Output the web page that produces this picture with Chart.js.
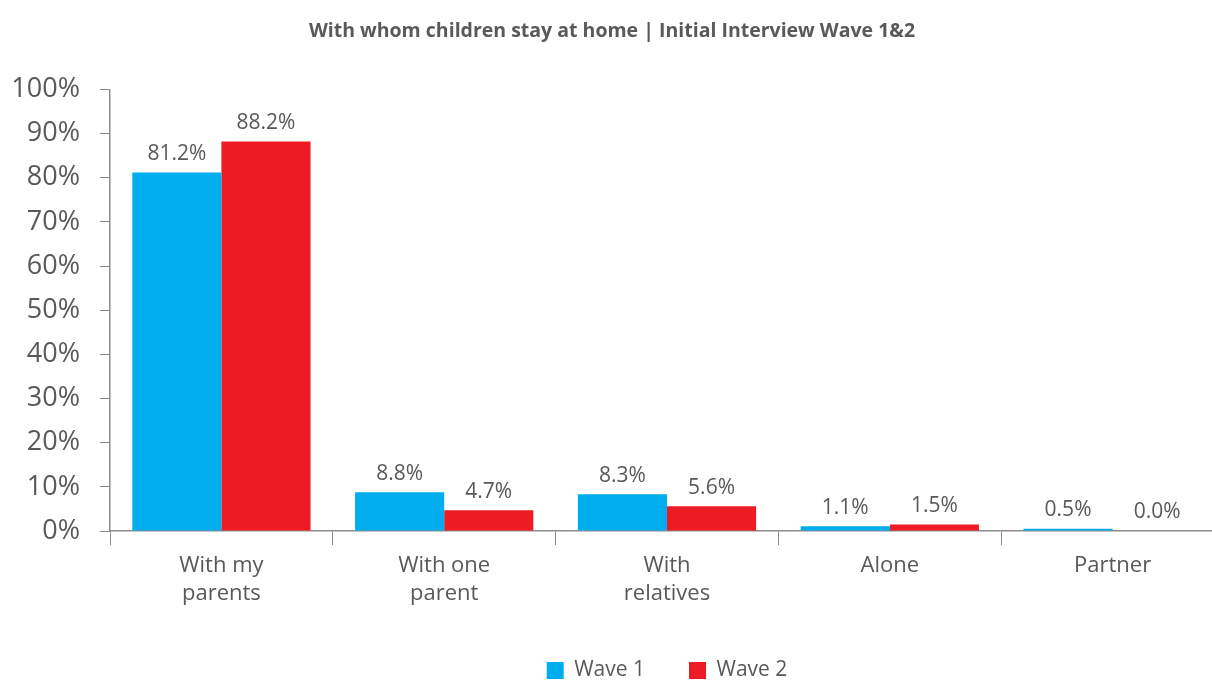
<!DOCTYPE html>
<html>
<head>
<meta charset="utf-8">
<title>With whom children stay at home</title>
<script src="https://cdn.jsdelivr.net/npm/chart.js@4"></script>
<style>
    html, body { margin: 0; padding: 0; background: #ffffff; overflow: hidden; }
    .wrap { width: 1212px; height: 681px; overflow: hidden; }
    .box { position: relative; width: 1224px; height: 693px; }
</style>
</head>
<body>
<div class="wrap">
    <div class="box"><canvas id="stayChart"></canvas></div>
</div>
<script>
const categories = [['With my', 'parents'], ['With one', 'parent'], ['With', 'relatives'], 'Alone', 'Partner'];
const wave1 = [81.2, 8.8, 8.3, 1.1, 0.5];
const wave2 = [88.2, 4.7, 5.6, 1.5, 0.0];
const yTicks = [0, 10, 20, 30, 40, 50, 60, 70, 80, 90, 100];

const textGray = '#595959';
const axisGray = '#8c8c8c';
const fontFamily = "'Open Sans', 'Noto Sans', sans-serif";

// value labels above each bar
const barValues = {
    id: 'barValues',
    afterDatasetsDraw(chart) {
        const ctx = chart.ctx;
        ctx.save();
        ctx.font = '21px ' + fontFamily;
        ctx.fillStyle = textGray;
        ctx.textAlign = 'center';
        ctx.textBaseline = 'bottom';
        chart.data.datasets.forEach((ds, i) => {
            chart.getDatasetMeta(i).data.forEach((bar, j) => {
                ctx.fillText(ds.data[j].toFixed(1) + '%', bar.x, bar.y - 8);
            });
        });
        ctx.restore();
    }
};

new Chart(document.getElementById('stayChart').getContext('2d'), {
    type: 'bar',
    data: {
        labels: categories,
        datasets: [
            { label: 'Wave 1', data: wave1, backgroundColor: '#00aeef' },
            { label: 'Wave 2', data: wave2, backgroundColor: '#ed1c24' }
        ]
    },
    options: {
        responsive: true,
        maintainAspectRatio: false,
        animation: false,
        layout: { padding: { left: 0, right: 0, top: 0, bottom: 2 } },
        datasets: { bar: { categoryPercentage: 0.8, barPercentage: 1.0 } },
        plugins: {
            title: {
                display: true,
                text: 'With whom children stay at home | Initial Interview Wave 1&2',
                color: textGray,
                font: { size: 19.5, weight: 'bold', family: fontFamily },
                padding: { top: 20, bottom: 46 }
            },
            legend: {
                position: 'bottom',
                fullSize: false,
                labels: {
                    color: textGray,
                    font: { size: 21, family: fontFamily },
                    boxWidth: 17,
                    boxHeight: 17,
                    padding: 44
                }
            },
            tooltip: { enabled: false }
        },
        scales: {
            x: {
                afterFit(scale) { scale.height = 85; },
                grid: { drawOnChartArea: false, tickLength: 14, color: axisGray, offset: true },
                border: { color: axisGray, width: 1.5 },
                ticks: { color: textGray, font: { size: 22, family: fontFamily, lineHeight: 1.27 }, padding: 7, maxRotation: 0 }
            },
            y: {
                min: 0,
                max: 100,
                afterBuildTicks(axis) { axis.ticks = yTicks.map(v => ({ value: v })); },
                afterFit(scale) { scale.width = 110; },
                grid: { drawOnChartArea: false, tickLength: 10, color: axisGray },
                border: { color: axisGray, width: 1.5 },
                ticks: { color: textGray, font: { size: 27, family: fontFamily }, padding: 20, callback: v => v + '%' }
            }
        }
    },
    plugins: [barValues]
});
</script>
</body>
</html>
